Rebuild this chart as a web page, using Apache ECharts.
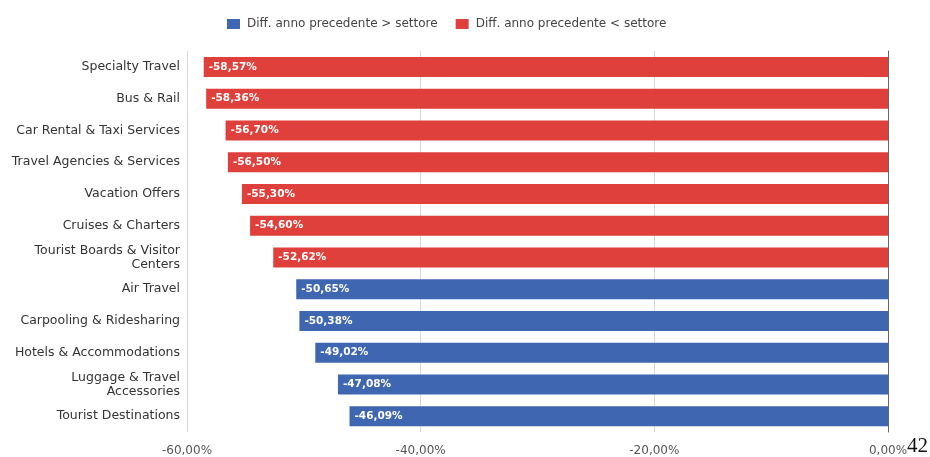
<!DOCTYPE html>
<html><head><meta charset="utf-8">
<script src="https://cdn.jsdelivr.net/npm/echarts@6/dist/echarts.min.js"></script>
<style>html,body{margin:0;padding:0;background:#fff}#c{width:930px;height:457px}</style>
</head><body><div id="c"></div>
<script>
const categories = ["Specialty Travel","Bus & Rail","Car Rental & Taxi Services","Travel Agencies & Services","Vacation Offers","Cruises & Charters","Tourist Boards & Visitor\nCenters","Air Travel","Carpooling & Ridesharing","Hotels & Accommodations","Luggage & Travel\nAccessories","Tourist Destinations"];
const values = [-58.57,-58.36,-56.70,-56.50,-55.30,-54.60,-52.62,-50.65,-50.38,-49.02,-47.08,-46.09];
const groups = ["red","red","red","red","red","red","red","blue","blue","blue","blue","blue"];
const seriesNames = ["Diff. anno precedente > settore","Diff. anno precedente < settore"];
const tickValues = [-60,-40,-20,0];

const FONT = '"DejaVu Sans", Verdana, sans-serif';
const fmt = v => v.toFixed(2).replace('.', ',') + '%';
const blueData = values.map((v,i)=>groups[i]==='blue'?v:null);
const redData = values.map((v,i)=>groups[i]==='red'?v:null);
const chart = echarts.init(document.getElementById('c'));
const lbl = {show:true, position:'insideLeft', color:'#fff', fontSize:10.5, fontWeight:'bold', fontFamily:FONT, formatter:p=>fmt(p.value), distance:5};
chart.setOption({
  animation:false,
  legend:{top:13, left:222, itemWidth:13, itemHeight:10, itemGap:18, icon:'rect',
    textStyle:{fontSize:12, color:'#444', fontFamily:FONT, padding:[0,0,0,2]}, data:seriesNames},
  grid:{left:187, right:42, top:51, bottom:25},
  xAxis:{type:'value', min:-60, max:0, interval:20,
    axisLine:{show:false}, axisTick:{show:false},
    splitLine:{lineStyle:{color:'#d9d9d9'}},
    axisLabel:{fontSize:12, color:'#555', margin:13, fontFamily:FONT, formatter:v=>fmt(v)}},
  yAxis:{type:'category', inverse:true, data:categories,
    axisLine:{show:true, onZero:true, lineStyle:{color:'#666'}}, axisTick:{show:false},
    axisLabel:{fontSize:12.5, color:'#333', margin:7, lineHeight:14, fontFamily:FONT}},
  series:[
    {name:seriesNames[0], type:'bar', stack:'s', data:blueData, barWidth:20, itemStyle:{color:'#3f67b1'}, label:lbl},
    {name:seriesNames[1], type:'bar', stack:'s', data:redData, barWidth:20, itemStyle:{color:'#df403b'}, label:lbl}
  ],
  graphic:[{type:'text', left:907, top:436, style:{text:'42', font:'21px "Liberation Serif", "Times New Roman", serif', fill:'#111'}}]
});
</script></body></html>
